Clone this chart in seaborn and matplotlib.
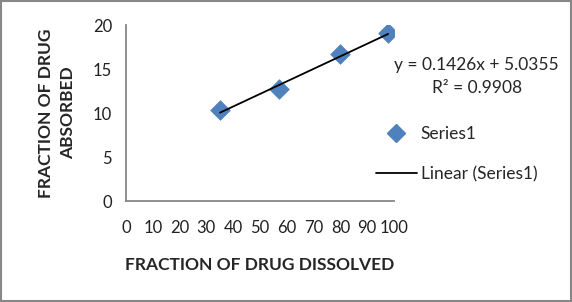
import matplotlib
matplotlib.use("Agg")
import matplotlib.pyplot as plt
import seaborn as sns
import numpy as np
import pandas as pd
from matplotlib.lines import Line2D

# data
dissolved = [35.1, 57.1, 79.9, 97.8]
absorbed = [10.3, 12.7, 16.7, 19.1]
slope = 0.1426
intercept = 5.0355
r2 = 0.9908
x_ticks = [0, 10, 20, 30, 40, 50, 60, 70, 80, 90, 100]
y_ticks = [0, 5, 10, 15, 20]

sns.set_style("white")
plt.rcParams['font.family'] = ['Lato', 'DejaVu Sans']

df = pd.DataFrame({"dissolved": dissolved, "absorbed": absorbed})

fig = plt.figure(figsize=(5.72, 3.02), dpi=100)
fig.patch.set_facecolor("white")
ax = fig.add_axes([126/572, 1-201/302, (394-126)/572, (201-25)/302])

sns.scatterplot(data=df, x="dissolved", y="absorbed", marker="D", s=100,
                color="#4F81BD", edgecolor="#4F81BD", linewidth=0.5, ax=ax, zorder=2)
xs = np.array([min(dissolved), max(dissolved)])
ax.plot(xs, slope*xs + intercept, color="black", lw=1.3, zorder=3)

ax.set_xlim(0, 100)
ax.set_ylim(0, 20)
ax.set_xticks(x_ticks)
ax.set_yticks(y_ticks)
ax.set_xticklabels([str(t) for t in x_ticks], fontsize=12)
ax.set_yticklabels([str(t) for t in y_ticks], fontsize=12)
ax.tick_params(axis='both', length=0, colors="#222222")
ax.tick_params(axis='x', pad=14)
ax.tick_params(axis='y', pad=10)
for s in ["top", "right"]:
    ax.spines[s].set_visible(False)
for s in ["left", "bottom"]:
    ax.spines[s].set_color("#878787")
    ax.spines[s].set_linewidth(1.3)

ax.set_xlabel("FRACTION OF DRUG DISSOLVED", fontsize=12.5, fontweight="bold", labelpad=15)
ax.set_ylabel("FRACTION OF DRUG\nABSORBED", fontsize=12.5, fontweight="bold", labelpad=12,
              linespacing=1.5)

fig.text(476/572, 1-65/302, f"y = {slope}x + {intercept}", fontsize=12.5,
         ha="center", va="center")
fig.text(477/572, 1-88/302, f"R² = {r2}", fontsize=12.5, ha="center", va="center")

handles = [Line2D([], [], marker="D", color="#4F81BD", ls="none", markersize=9),
           Line2D([], [], color="black", lw=1.3)]
fig.legend(handles, ["Series1", "Linear (Series1)"], loc="upper left",
           bbox_to_anchor=(360/572, 1-110/302), frameon=False, fontsize=12.5,
           handlelength=2.4, handletextpad=0.2, labelspacing=1.4)

border = plt.Rectangle((0.001, 0.002), 0.997, 0.995, transform=fig.transFigure,
                       fill=False, edgecolor="#878787", lw=1.5)
fig.patches.append(border)

fig.savefig("out.png", dpi=100)
